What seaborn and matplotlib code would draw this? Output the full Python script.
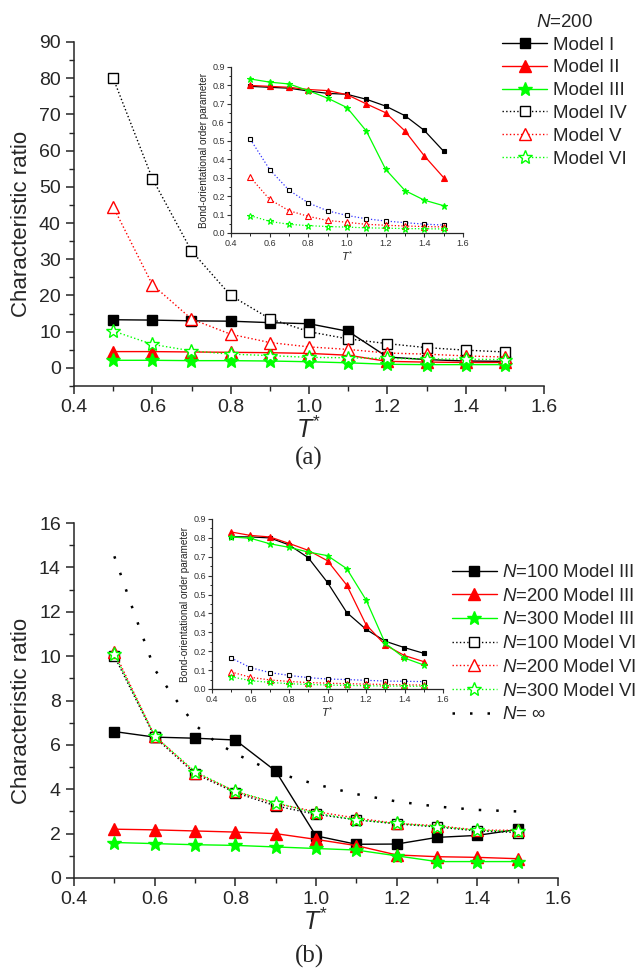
import numpy as np
import pandas as pd
import matplotlib
matplotlib.use("Agg")
import matplotlib.pyplot as plt
from matplotlib.ticker import MultipleLocator, FormatStrFormatter
import seaborn as sns

# ---------------- data ----------------
T = [0.5, 0.6, 0.7, 0.8, 0.9, 1.0, 1.1, 1.2, 1.3, 1.4, 1.5]

# panel (a) main: characteristic ratio, N=200
a_m1 = [13.3, 13.2, 13.0, 12.9, 12.5, 12.2, 10.1, 3.0, 2.3, 1.9, 1.8]
a_m2 = [4.5, 4.5, 4.4, 4.3, 4.2, 4.0, 3.5, 1.8, 1.6, 1.5, 1.5]
a_m3 = [2.1, 2.1, 2.0, 2.0, 1.9, 1.7, 1.4, 1.0, 0.9, 0.9, 0.9]
a_m4 = [80.0, 52.3, 32.3, 20.0, 13.6, 10.0, 8.0, 6.7, 5.6, 4.9, 4.4]
a_m5 = [44.5, 23.0, 13.5, 9.3, 7.0, 5.8, 5.1, 4.1, 3.8, 3.3, 3.0]
a_m6 = [10.2, 6.5, 4.7, 3.8, 3.4, 2.9, 2.8, 2.6, 2.5, 2.4, 2.3]

# panel (a) inset: bond-orientational order parameter
ai_m1 = [0.795, 0.79, 0.785, 0.77, 0.757, 0.752, 0.725, 0.688, 0.636, 0.556, 0.443]
ai_m2 = [0.80, 0.795, 0.79, 0.778, 0.772, 0.75, 0.70, 0.652, 0.553, 0.418, 0.300]
ai_m3 = [0.835, 0.818, 0.808, 0.772, 0.731, 0.68, 0.553, 0.345, 0.230, 0.178, 0.148]
ai_m4 = [0.508, 0.344, 0.232, 0.163, 0.12, 0.095, 0.077, 0.065, 0.056, 0.048, 0.043]
ai_m5 = [0.302, 0.182, 0.121, 0.09, 0.068, 0.058, 0.047, 0.042, 0.038, 0.035, 0.033]
ai_m6 = [0.094, 0.063, 0.047, 0.04, 0.035, 0.032, 0.028, 0.026, 0.024, 0.023, 0.022]

# panel (b) main: characteristic ratio, different N
b_n100_m3 = [6.6, 6.35, 6.3, 6.22, 4.82, 1.9, 1.52, 1.53, 1.83, 1.92, 2.19]
b_n200_m3 = [2.2, 2.17, 2.12, 2.07, 2.0, 1.74, 1.46, 1.04, 0.96, 0.93, 0.87]
b_n300_m3 = [1.6, 1.55, 1.5, 1.47, 1.4, 1.33, 1.26, 1.0, 0.74, 0.74, 0.74]
b_n100_m6 = [10.0, 6.35, 4.7, 3.85, 3.25, 2.87, 2.62, 2.44, 2.3, 2.12, 2.05]
b_n200_m6 = [10.2, 6.4, 4.75, 3.9, 3.35, 2.99, 2.7, 2.46, 2.36, 2.16, 2.15]
b_n300_m6 = [10.1, 6.4, 4.8, 3.9, 3.4, 2.92, 2.62, 2.46, 2.32, 2.15, 2.1]
T_inf = [0.5, 0.55, 0.6, 0.65, 0.7, 0.75, 0.8, 0.9, 1.0, 1.1, 1.2, 1.3, 1.4, 1.5]
b_inf = [14.5, 11.9, 9.4, 8.1, 6.9, 6.15, 5.6, 4.75, 4.22, 3.78, 3.45, 3.22, 3.07, 3.0]

# panel (b) inset
bi_n100_m3 = [0.806, 0.805, 0.80, 0.763, 0.695, 0.564, 0.405, 0.316, 0.253, 0.219, 0.189]
bi_n200_m3 = [0.831, 0.813, 0.805, 0.771, 0.734, 0.679, 0.55, 0.341, 0.233, 0.177, 0.145]
bi_n300_m3 = [0.805, 0.798, 0.769, 0.75, 0.725, 0.706, 0.637, 0.472, 0.242, 0.164, 0.127]
bi_n100_m6 = [0.164, 0.113, 0.087, 0.072, 0.06, 0.053, 0.05, 0.046, 0.042, 0.041, 0.039]
bi_n200_m6 = [0.09, 0.062, 0.048, 0.04, 0.034, 0.031, 0.028, 0.026, 0.024, 0.022, 0.021]
bi_n300_m6 = [0.065, 0.044, 0.035, 0.028, 0.024, 0.021, 0.019, 0.017, 0.016, 0.015, 0.014]

labels_a = ["Model I", "Model II", "Model III", "Model IV", "Model V", "Model VI"]
labels_b = [r"$\it{N}$=100 Model III", r"$\it{N}$=200 Model III", r"$\it{N}$=300 Model III",
            r"$\it{N}$=100 Model VI", r"$\it{N}$=200 Model VI", r"$\it{N}$=300 Model VI",
            r"$\it{N}$= $\infty$"]

# ---------------- style ----------------
sns.set_style("ticks")
plt.rcParams["font.family"] = ["Liberation Sans", "DejaVu Sans"]
plt.rcParams["mathtext.fontset"] = "custom"
plt.rcParams["mathtext.rm"] = "Liberation Sans"
plt.rcParams["mathtext.it"] = "Liberation Sans:italic"
plt.rcParams["mathtext.bf"] = "Liberation Sans:bold"
plt.rcParams["axes.linewidth"] = 1.1

BLK, RED, GRN, BLU = "#000000", "#ff0000", "#00ff00", "#3333ff"

W, H = 644, 969
fig = plt.figure(figsize=(W / 100, H / 100), dpi=100)


def box(l, t, r, b):
    return [l / W, 1 - b / H, (r - l) / W, (b - t) / H]


axA = fig.add_axes(box(74, 42, 544, 386))
insA = fig.add_axes(box(231, 67, 463, 233))
axB = fig.add_axes(box(74, 523, 558, 878))
insB = fig.add_axes(box(212, 519, 443, 689))


def series(ax, x, y, color, marker, ls, filled, ms, lw=1.0, label=None,
           linecolor=None, mew=1.0):
    sns.lineplot(x=x, y=y, ax=ax, color=linecolor or color, marker=marker,
                 linestyle=ls, linewidth=lw, markersize=ms,
                 markerfacecolor=color if filled else "white",
                 markeredgecolor=color, mew=mew, label=label,
                 legend=False, errorbar=None, sort=False)


# main (a)
specs_a = [
    (a_m1, BLK, "s", "-", True, 6.5),
    (a_m2, RED, "^", "-", True, 8),
    (a_m3, GRN, "*", "-", True, 10),
    (a_m4, BLK, "s", ":", False, 6.5),
    (a_m5, RED, "^", ":", False, 8),
    (a_m6, GRN, "*", ":", False, 10),
]
for (y, c, m, ls, f, ms), lab in zip(specs_a, labels_a):
    series(axA, T, y, c, m, ls, f, ms, lw=1.0, label=lab)

# inset (a)
specs_ai = [
    (ai_m1, BLK, "s", "-", True, 3.5, None),
    (ai_m2, RED, "^", "-", True, 4, None),
    (ai_m3, GRN, "*", "-", True, 5, None),
    (ai_m4, BLK, "s", ":", False, 3.5, BLU),
    (ai_m5, RED, "^", ":", False, 4, None),
    (ai_m6, GRN, "*", ":", False, 5, None),
]
for y, c, m, ls, f, ms, lc in specs_ai:
    series(insA, T, y, c, m, ls, f, ms, lw=0.9, linecolor=lc, mew=0.8)

# main (b)
specs_b = [
    (b_n100_m3, BLK, "s", "-", True, 6.5),
    (b_n200_m3, RED, "^", "-", True, 8),
    (b_n300_m3, GRN, "*", "-", True, 10),
    (b_n100_m6, BLK, "s", ":", False, 6.5),
    (b_n200_m6, RED, "^", ":", False, 8),
    (b_n300_m6, GRN, "*", ":", False, 10),
]
for (y, c, m, ls, f, ms), lab in zip(specs_b, labels_b[:6]):
    series(axB, T, y, c, m, ls, f, ms, lw=1.0, label=lab)
sns.lineplot(x=T_inf, y=b_inf, ax=axB, color=BLK, linestyle=(0, (1, 6)),
             linewidth=1.8, label=labels_b[6], legend=False, errorbar=None,
             sort=False)

# inset (b)
specs_bi = [
    (bi_n100_m3, BLK, "s", "-", True, 3.5, None),
    (bi_n200_m3, RED, "^", "-", True, 4, None),
    (bi_n300_m3, GRN, "*", "-", True, 5, None),
    (bi_n100_m6, BLK, "s", ":", False, 3.5, BLU),
    (bi_n200_m6, RED, "^", ":", False, 4, None),
    (bi_n300_m6, GRN, "*", ":", False, 5, None),
]
for y, c, m, ls, f, ms, lc in specs_bi:
    series(insB, T, y, c, m, ls, f, ms, lw=0.9, linecolor=lc, mew=0.8)

# ---------------- axes formatting ----------------
for ax, ylim, ymaj, ymin, wpx in [(axA, (-5, 90), 10, 5, 470),
                                  (axB, (0, 16), 2, 1, 484)]:
    ax.set_xlim(0.4, 1.6)
    ax.set_ylim(*ylim)
    ax.xaxis.set_major_locator(MultipleLocator(0.2))
    ax.xaxis.set_minor_locator(MultipleLocator(0.1))
    ax.yaxis.set_major_locator(MultipleLocator(ymaj))
    ax.yaxis.set_minor_locator(MultipleLocator(ymin))
    ax.xaxis.set_major_formatter(FormatStrFormatter("%.1f"))
    ax.tick_params(which="major", direction="out", length=6, width=1.1,
                   labelsize=14)
    ax.tick_params(which="minor", direction="out", length=3.5, width=1.0)
    sns.despine(ax=ax)
    ax.set_ylabel("Characteristic ratio", fontsize=16)
    ax.yaxis.set_label_coords(-42 / wpx, 0.47)
    ax.set_xlabel(r"$\it{T}^{*}$", fontsize=18, labelpad=0)
    ax.set_facecolor("none")

for ax in (insA, insB):
    ax.set_xlim(0.4, 1.6)
    ax.set_ylim(0, 0.9)
    ax.xaxis.set_major_locator(MultipleLocator(0.2))
    ax.xaxis.set_minor_locator(MultipleLocator(0.1))
    ax.yaxis.set_major_locator(MultipleLocator(0.1))
    ax.yaxis.set_minor_locator(MultipleLocator(0.05))
    ax.xaxis.set_major_formatter(FormatStrFormatter("%.1f"))
    ax.yaxis.set_major_formatter(FormatStrFormatter("%.1f"))
    ax.tick_params(which="major", direction="out", length=3, width=0.8,
                   labelsize=6.5, pad=1.5, colors="#333333", labelcolor="#333333")
    ax.tick_params(which="minor", direction="out", length=1.8, width=0.7)
    sns.despine(ax=ax)
    for s in ("left", "bottom"):
        ax.spines[s].set_linewidth(0.9)
    ax.set_ylabel("Bond-orientational order parameter", fontsize=7.2,
                  labelpad=2, color="#222222")
    ax.set_xlabel(r"$\it{T}^{*}$", fontsize=8, labelpad=1, color="#222222")
    ax.set_facecolor("white")

# ---------------- legends ----------------
h, l = axA.get_legend_handles_labels()
fig.legend(h, l, loc="upper left", bbox_to_anchor=(502 / W, 1 - 14 / H),
           frameon=False, title=r"$\it{N}$=200", fontsize=13.5,
           title_fontsize=13.5, handlelength=2.4, handletextpad=0.3,
           labelspacing=0.30, borderpad=0, borderaxespad=0, numpoints=1)

h, l = axB.get_legend_handles_labels()
fig.legend(h, l, loc="upper left", bbox_to_anchor=(452 / W, 1 - 564 / H),
           frameon=False, fontsize=13.4, handlelength=2.4,
           handletextpad=0.3, labelspacing=0.36, borderpad=0,
           borderaxespad=0, numpoints=1)

# panel letters
fig.text(309 / W, 1 - 458 / H, "(a)", ha="center", va="center", fontsize=18,
         family=["Liberation Serif", "DejaVu Serif"])
fig.text(309 / W, 1 - 956 / H, "(b)", ha="center", va="center", fontsize=18,
         family=["Liberation Serif", "DejaVu Serif"])

fig.savefig("out.png", dpi=100)
